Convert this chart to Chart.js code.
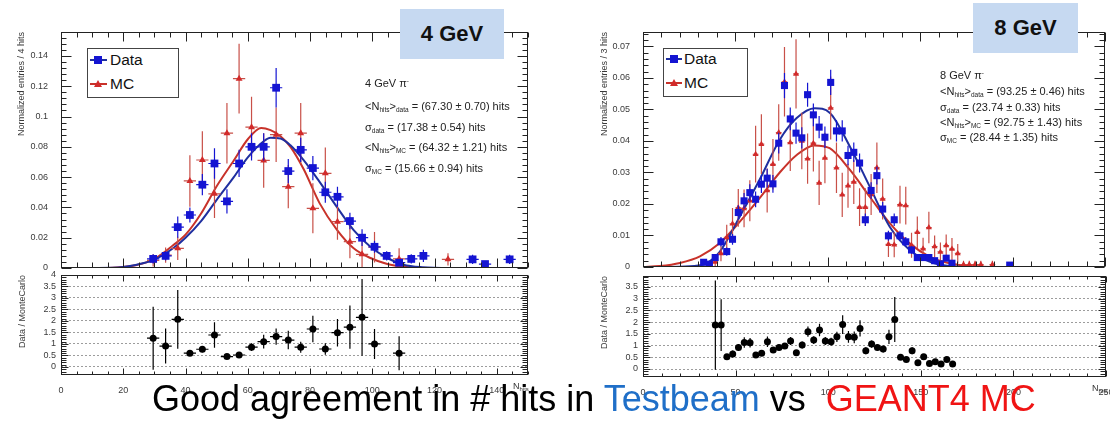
<!DOCTYPE html>
<html>
<head>
<meta charset="utf-8">
<script src="https://cdn.jsdelivr.net/npm/chart.js@4.4.1/dist/chart.umd.min.js"></script>
<style>
  html, body { margin: 0; padding: 0; background: #fff; }
  body { width: 1110px; height: 422px; position: relative; overflow: hidden;
         font-family: "Liberation Sans", Arial, Helvetica, sans-serif; }
  canvas { position: absolute; }
  .tag { position: absolute; background: #c6d9f1; color: #111; font-weight: bold;
         font-size: 22px; text-align: center; }
  .stat { position: absolute; font-size: 11px; line-height: 12px; color: #222; white-space: nowrap; }
  .stat sub { font-size: 6.5px; vertical-align: -2px; }
  .stat sup { font-size: 6.5px; vertical-align: 4px; }
  .leg { position: absolute; border: 1px solid #444; background: #fff; }
  .legtxt { position: absolute; font-size: 15.5px; line-height: 16px; color: #111; }
  .lline { position: absolute; height: 2px; }
  .sq { position: absolute; width: 8px; height: 8px; background: #1414d2; }
  .tri { position: absolute; width: 0; height: 0; border-left: 4px solid transparent;
         border-right: 4px solid transparent; border-bottom: 7px solid #d22a2a; }
  .xt { position: absolute; font-size: 9px; color: #333; white-space: nowrap; }
  .xt sub { font-size: 6px; vertical-align: -2px; }
  .caption { position: absolute; left: 152px; top: 381px; font-size: 36px; line-height: 36px;
             color: #000; white-space: pre; }
</style>
</head>
<body>
<canvas id="main4" width="540" height="280" style="left:0;top:0"></canvas>
<canvas id="ratio4" width="540" height="140" style="left:0;top:262px"></canvas>
<canvas id="main8" width="530" height="280" style="left:580px;top:0"></canvas>
<canvas id="ratio8" width="530" height="140" style="left:580px;top:262px"></canvas>

<!-- 4 GeV panel annotations -->
<div class="tag" style="left:400px;top:9px;width:104px;height:50px;line-height:50px">4 GeV</div>
<div class="stat" style="left:365px;top:75px">4 GeV π<sup>-</sup></div>
<div class="stat" style="left:365px;top:100px">&lt;N<sub>hits</sub>&gt;<sub>data</sub> = (67.30 ± 0.70) hits</div>
<div class="stat" style="left:365px;top:121px">σ<sub>data</sub> = (17.38 ± 0.54) hits</div>
<div class="stat" style="left:365px;top:141px">&lt;N<sub>hits</sub>&gt;<sub>MC</sub> = (64.32 ± 1.21) hits</div>
<div class="stat" style="left:365px;top:162px">σ<sub>MC</sub> = (15.66 ± 0.94) hits</div>
<div class="leg" style="left:87px;top:48px;width:90px;height:48px"></div>
<div class="lline" style="left:90px;top:59px;width:17px;background:#1f2f9f"></div>
<div class="sq" style="left:94px;top:56px"></div>
<div class="legtxt" style="left:110px;top:52px">Data</div>
<div class="lline" style="left:90px;top:83px;width:17px;background:#c8322a"></div>
<div class="tri" style="left:94px;top:80px"></div>
<div class="legtxt" style="left:110px;top:76px">MC</div>
<div class="xt" style="left:513px;top:381px">N<sub>hits</sub></div>

<!-- 8 GeV panel annotations -->
<div class="tag" style="left:973px;top:3px;width:105px;height:50px;line-height:50px">8 GeV</div>
<div class="stat" style="left:940px;top:67px">8 GeV π<sup>-</sup></div>
<div class="stat" style="left:940px;top:85px">&lt;N<sub>hits</sub>&gt;<sub>data</sub> = (93.25 ± 0.46) hits</div>
<div class="stat" style="left:940px;top:101px">σ<sub>data</sub> = (23.74 ± 0.33) hits</div>
<div class="stat" style="left:940px;top:116px">&lt;N<sub>hits</sub>&gt;<sub>MC</sub> = (92.75 ± 1.43) hits</div>
<div class="stat" style="left:940px;top:131px">σ<sub>MC</sub> = (28.44 ± 1.35) hits</div>
<div class="leg" style="left:663px;top:48px;width:83px;height:47px"></div>
<div class="lline" style="left:666px;top:58px;width:16px;background:#1f2f9f"></div>
<div class="sq" style="left:670px;top:55px"></div>
<div class="legtxt" style="left:684px;top:51px">Data</div>
<div class="lline" style="left:666px;top:82px;width:16px;background:#c8322a"></div>
<div class="tri" style="left:670px;top:79px"></div>
<div class="legtxt" style="left:684px;top:75px">MC</div>
<div class="xt" style="left:1092px;top:383px">N<sub>hits</sub></div>

<div class="caption">Good agreement in # hits in <span style="color:#1f6fc8">Testbeam</span> vs  <span style="color:#f01414">GEANT4 MC</span></div>

<script>
// ---------------- 4 GeV pi- ----------------
// bin centres (hits) and normalized entries per bin
const x4Data = [29.6, 33.6, 37.5, 41.4, 45.4, 49.3, 53.3, 57.2, 61.2, 65.1, 69.1, 73.0, 77.0, 80.9, 84.9, 88.8, 92.8, 96.7, 100.7, 104.6, 108.6, 112.5, 116.4, 132.2, 136.2, 144.1];
const y4Data = [0.006, 0.008, 0.027, 0.035, 0.055, 0.069, 0.044, 0.069, 0.080, 0.080, 0.119, 0.064, 0.078, 0.066, 0.050, 0.047, 0.031, 0.020, 0.014, 0.008, 0.0035, 0.006, 0.008, 0.0057, 0.0026, 0.0057];
const e4Data = [0.003, 0.003, 0.007, 0.005, 0.007, 0.010, 0.008, 0.009, 0.009, 0.009, 0.013, 0.008, 0.008, 0.008, 0.007, 0.0066, 0.0055, 0.0055, 0.004, 0.003, 0.002, 0.003, 0.004, 0.003, 0.002, 0.003];

const x4Mc = [29.6, 33.6, 37.5, 41.4, 45.4, 49.3, 53.3, 57.2, 61.2, 65.1, 69.1, 73.0, 77.0, 80.9, 84.9, 88.8, 92.8, 96.7, 100.7, 108.6, 124.3];
const y4Mc = [0.005, 0.0085, 0.013, 0.0575, 0.0713, 0.049, 0.089, 0.125, 0.093, 0.071, 0.088, 0.0537, 0.089, 0.0394, 0.0625, 0.0306, 0.0174, 0.009, 0.0137, 0.006, 0.0057];
const e4Mc = [0.004, 0.005, 0.0077, 0.017, 0.019, 0.016, 0.020, 0.023, 0.020, 0.018, 0.018, 0.0143, 0.020, 0.0165, 0.017, 0.012, 0.011, 0.009, 0.010, 0.007, 0.004];

// Gaussian fit curves
const fit4DataX = [0, 12, 20, 23.5, 30, 36, 40, 45, 50, 55.5, 60, 65, 67.3, 70.5, 73.7, 78, 83, 88.7, 94, 99.4, 104.8, 110, 116, 125, 150];
const fit4DataY = [0, 0, 0.0006, 0.0018, 0.0055, 0.013, 0.020, 0.031, 0.045, 0.060, 0.073, 0.0835, 0.086, 0.0855, 0.081, 0.071, 0.057, 0.040, 0.025, 0.014, 0.0066, 0.0022, 0.0005, 0, 0];
const fit4McX = [0, 12, 18, 24, 30, 36, 40, 45, 50, 55.5, 60, 64.3, 67.3, 70.5, 73.7, 78, 83, 88.7, 94, 99.4, 104.8, 110, 118, 150];
const fit4McY = [0, 0, 0.0004, 0.0018, 0.006, 0.015, 0.022, 0.036, 0.054, 0.071, 0.085, 0.0925, 0.091, 0.087, 0.080, 0.065, 0.043, 0.025, 0.013, 0.0066, 0.0026, 0.0008, 0, 0];

// Data / MonteCarlo
const r4X = [29.6, 33.6, 37.5, 41.4, 45.4, 49.3, 53.3, 57.2, 61.2, 65.1, 69.1, 73.0, 77.0, 80.9, 84.9, 88.8, 92.8, 96.7, 100.7, 108.6];
const r4Y = [1.25, 0.91, 2.07, 0.60, 0.77, 1.39, 0.45, 0.52, 0.86, 1.10, 1.32, 1.17, 0.86, 1.65, 0.78, 1.49, 1.73, 2.16, 1.00, 0.60];
const r4E = [1.37, 0.76, 1.28, 0.08, 0.13, 0.56, 0.08, 0.08, 0.17, 0.30, 0.35, 0.40, 0.24, 0.58, 0.25, 0.60, 0.94, 1.67, 0.65, 0.74];

const ticks4X = [0, 20, 40, 60, 80, 100, 120, 140];
const ticks4Y = [0, 0.02, 0.04, 0.06, 0.08, 0.1, 0.12, 0.14];
const ticksR4Y = [0, 0.5, 1, 1.5, 2, 2.5, 3, 3.5, 4];

// ---------------- 8 GeV pi- ----------------
const x8Data = [32.81, 35.94, 39.06, 42.19, 45.31, 48.44, 51.56, 54.69, 57.81, 60.94, 64.06, 67.19, 70.31, 73.44, 76.56, 79.69, 82.81, 85.94, 89.06, 92.19, 95.31, 98.44, 101.56, 104.69, 107.81, 110.94, 114.06, 117.19, 120.31, 123.44, 126.56, 129.69, 132.81, 135.94, 139.06, 142.19, 145.31, 148.44, 151.56, 154.69, 157.81, 160.94, 164.06, 167.19, 198.44];
const y8Data = [0.0015, 0.0009, 0.003, 0.008, 0.0049, 0.0088, 0.0173, 0.021, 0.0236, 0.0215, 0.0263, 0.0282, 0.0264, 0.0393, 0.0576, 0.047, 0.0425, 0.041, 0.0547, 0.0483, 0.0444, 0.0412, 0.0586, 0.0432, 0.0432, 0.0354, 0.0364, 0.033, 0.015, 0.0243, 0.029, 0.0184, 0.0099, 0.015, 0.0099, 0.008, 0.0054, 0.003, 0.003, 0.003, 0.002, 0.001, 0.0028, 0.0012, 0.0006];
const e8Data = [0.0008, 0.0006, 0.001, 0.0015, 0.0013, 0.0017, 0.0023, 0.0025, 0.0027, 0.0025, 0.0028, 0.003, 0.0028, 0.0033, 0.004, 0.0036, 0.0034, 0.0034, 0.0038, 0.0036, 0.0035, 0.0034, 0.004, 0.0034, 0.0034, 0.0031, 0.0031, 0.003, 0.002, 0.0026, 0.0028, 0.0022, 0.0016, 0.002, 0.0016, 0.0015, 0.0012, 0.0009, 0.0009, 0.0009, 0.0008, 0.0006, 0.0009, 0.0006, 0.0004];

const x8Mc = [39.06, 42.19, 45.31, 48.44, 51.56, 54.69, 57.81, 60.94, 64.06, 67.19, 70.31, 73.44, 76.56, 79.69, 82.81, 85.94, 89.06, 92.19, 95.31, 98.44, 101.56, 104.69, 107.81, 110.94, 114.06, 117.19, 120.31, 123.44, 126.56, 129.69, 132.81, 135.94, 139.06, 142.19, 145.31, 148.44, 151.56, 154.69, 157.81, 160.94, 164.06, 167.19, 170.31, 173.44, 176.56, 179.69, 182.81, 189.06];
const y8Mc = [0.0016, 0.0043, 0.0094, 0.0137, 0.0188, 0.0186, 0.021, 0.0358, 0.039, 0.0243, 0.0326, 0.0427, 0.0588, 0.0395, 0.0613, 0.040, 0.0344, 0.0393, 0.0267, 0.0346, 0.0505, 0.0315, 0.0229, 0.0258, 0.027, 0.019, 0.019, 0.023, 0.0315, 0.0216, 0.0072, 0.0071, 0.0198, 0.0195, 0.0069, 0.011, 0.0058, 0.0125, 0.0065, 0.0048, 0.0068, 0.0057, 0.0043, 0.0008, 0.0008, 0.0008, 0.0008, 0.0008];
const e8Mc = [0.0015, 0.0025, 0.004, 0.005, 0.006, 0.006, 0.0065, 0.009, 0.0095, 0.007, 0.008, 0.009, 0.011, 0.009, 0.011, 0.009, 0.008, 0.009, 0.007, 0.008, 0.010, 0.008, 0.007, 0.007, 0.007, 0.006, 0.006, 0.0065, 0.008, 0.0065, 0.004, 0.004, 0.006, 0.006, 0.004, 0.005, 0.0035, 0.005, 0.0035, 0.003, 0.0035, 0.0035, 0.003, 0.0012, 0.0012, 0.0012, 0.0012, 0.0012];

const fit8DataX = [0, 20, 30, 33.5, 41.6, 52.4, 63, 74, 83, 93, 101, 112, 122.7, 133.5, 144.3, 155, 165.8, 180, 250];
const fit8DataY = [0, 0.0001, 0.0005, 0.0009, 0.0049, 0.016, 0.0276, 0.0404, 0.0472, 0.0504, 0.049, 0.0382, 0.0255, 0.0128, 0.0054, 0.0017, 0.0003, 0, 0];
const fit8McX = [0, 9, 20, 30.8, 41.6, 52.4, 63, 74, 83, 92.75, 101, 112, 122.7, 133.5, 144.3, 155, 165.8, 176.6, 192, 250];
const fit8McY = [0, 0.0003, 0.0013, 0.0034, 0.0076, 0.0144, 0.0218, 0.030, 0.0355, 0.0386, 0.0377, 0.0308, 0.0223, 0.0139, 0.0075, 0.0033, 0.0012, 0.0003, 0, 0];

const r8X = [39.06, 42.19, 45.31, 48.44, 51.56, 54.69, 57.81, 60.94, 64.06, 67.19, 70.31, 73.44, 76.56, 79.69, 82.81, 85.94, 89.06, 92.19, 95.31, 98.44, 101.56, 104.69, 107.81, 110.94, 114.06, 117.19, 120.31, 123.44, 126.56, 129.69, 132.81, 135.94, 139.06, 142.19, 145.31, 148.44, 151.56, 154.69, 157.81, 160.94, 164.06, 167.19];
const r8Y = [1.87, 1.87, 0.52, 0.64, 0.92, 1.13, 1.12, 0.60, 0.67, 1.16, 0.81, 0.92, 0.98, 1.19, 0.69, 1.02, 1.59, 1.23, 1.66, 1.19, 1.16, 1.37, 1.89, 1.37, 1.35, 1.73, 0.78, 1.06, 0.92, 0.85, 1.37, 2.11, 0.50, 0.41, 0.78, 0.27, 0.52, 0.24, 0.31, 0.21, 0.41, 0.21];
const r8E = [1.9, 1.1, 0.12, 0.15, 0.15, 0.22, 0.2, 0.1, 0.1, 0.22, 0.12, 0.12, 0.12, 0.17, 0.12, 0.15, 0.22, 0.17, 0.27, 0.17, 0.17, 0.22, 0.4, 0.25, 0.25, 0.35, 0.15, 0.15, 0.12, 0.15, 0.3, 0.96, 0.1, 0.1, 0.15, 0.08, 0.1, 0.06, 0.08, 0.06, 0.1, 0.06];

const ticks8X = [0, 50, 100, 150, 200, 250];
const ticks8Y = [0, 0.01, 0.02, 0.03, 0.04, 0.05, 0.06, 0.07];
const ticksR8Y = [0, 0.5, 1, 1.5, 2, 2.5, 3, 3.5];

// ---------------- drawing helpers ----------------
const BLUE = '#1414d2', BLUE_FIT = '#1f2f9f', RED = '#d22a2a', RED_FIT = '#c8322a', RED_ERR = '#c85048';
const xy = (xs, ys) => xs.map((v, i) => ({x: v, y: ys[i]}));
const fmt = v => String(+(+v).toFixed(4));

// force the thickness of an axis box and drop the automatic label padding
const fixBox = size => s => {
  if (s.isHorizontal()) s.height = size; else s.width = size;
  s.paddingTop = s.paddingBottom = s.paddingLeft = s.paddingRight = 0;
};
const fixedTicks = values => s => { s.ticks = values.map(v => ({value: v})); };

// vertical and horizontal error bars, drawn just under each dataset's markers
const errorBars = {
  id: 'errorBars',
  beforeDatasetDraw(chart, args) {
    const ds = chart.data.datasets[args.index];
    if (!ds.errY) return;
    const {ctx, chartArea: a, scales: {x, y}} = chart;
    ctx.save();
    ctx.beginPath();
    ctx.rect(a.left, a.top, a.right - a.left, a.bottom - a.top);
    ctx.clip();
    ctx.strokeStyle = ds.errColor;
    ctx.lineWidth = ds.errWidth;
    ctx.beginPath();
    ds.data.forEach((p, i) => {
      const px = x.getPixelForValue(p.x), py = y.getPixelForValue(p.y);
      ctx.moveTo(px, y.getPixelForValue(p.y - ds.errY[i]));
      ctx.lineTo(px, y.getPixelForValue(p.y + ds.errY[i]));
      ctx.moveTo(x.getPixelForValue(p.x - ds.errX), py);
      ctx.lineTo(x.getPixelForValue(p.x + ds.errX), py);
    });
    ctx.stroke();
    ctx.restore();
  }
};

// closed frame with inward major/minor ticks on all four sides
const rootFrame = {
  id: 'rootFrame',
  afterDatasetsDraw(chart, args, o) {
    const {ctx, chartArea: a, scales: {x, y}} = chart;
    const L = Math.round(a.left) + 0.5, R = Math.round(a.right) - 0.5;
    const T = Math.round(a.top) + 0.5, B = Math.round(a.bottom) - 0.5;
    ctx.save();
    ctx.strokeStyle = '#222';
    ctx.lineWidth = 1;
    ctx.strokeRect(L, T, R - L, B - T);
    ctx.beginPath();
    const walk = (scale, minor, major, fn) => {
      const k0 = Math.ceil(scale.min / minor - 1e-6), k1 = Math.floor(scale.max / minor + 1e-6);
      for (let k = k0; k <= k1; k++) {
        const v = k * minor;
        const isMajor = Math.abs(v / major - Math.round(v / major)) < 1e-6;
        fn(Math.round(scale.getPixelForValue(v)) + 0.5, isMajor);
      }
    };
    walk(x, o.xMinor, o.xMajor, (px, M) => {
      const lb = M ? o.xLenB[0] : o.xLenB[1], lt = M ? o.xLenT[0] : o.xLenT[1];
      ctx.moveTo(px, B); ctx.lineTo(px, B - lb);
      ctx.moveTo(px, T); ctx.lineTo(px, T + lt);
    });
    walk(y, o.yMinor, o.yMajor, (py, M) => {
      const l = M ? o.yLen[0] : o.yLen[1];
      ctx.moveTo(L, py); ctx.lineTo(L + l, py);
      ctx.moveTo(R, py); ctx.lineTo(R - l, py);
    });
    ctx.stroke();
    ctx.restore();
  }
};

const tickFont = {family: '"Liberation Sans", Arial, sans-serif', size: 9};
const titleFont = {family: '"Liberation Sans", Arial, sans-serif', size: 9};

function plot(id, o) {
  return new Chart(document.getElementById(id), {
    type: 'scatter',
    data: {datasets: o.datasets},
    options: {
      responsive: false,
      animation: false,
      events: [],
      layout: {padding: o.pad},
      plugins: {legend: {display: false}, tooltip: {enabled: false}, rootFrame: o.frame},
      scales: {
        x: {
          type: 'linear', min: o.xMin, max: o.xMax,
          afterBuildTicks: fixedTicks(o.xTicks), afterFit: fixBox(o.xH),
          grid: {display: false}, border: {display: false},
          ticks: {display: o.xLabels, font: tickFont, color: '#3a3a3a', padding: 2,
                  maxRotation: 0, autoSkip: false, callback: fmt}
        },
        y: {
          type: 'linear', min: o.yMin, max: o.yMax,
          afterBuildTicks: fixedTicks(o.yTicks), afterFit: fixBox(o.yW),
          grid: o.grid ? {display: true, color: '#9c9c9c', lineWidth: 1, drawTicks: false}
                       : {display: false},
          border: {display: false, dash: [2, 2]},
          ticks: {font: tickFont, color: '#3a3a3a', padding: 5, autoSkip: false, callback: fmt},
          title: {display: true, text: o.yTitle, align: 'end', font: titleFont,
                  color: '#3a3a3a', padding: {top: o.titlePad, bottom: 0}}
        }
      }
    },
    plugins: [errorBars, rootFrame]
  });
}

function curve(xs, ys, color) {
  return {data: xy(xs, ys), showLine: true, pointRadius: 0, borderColor: color, borderWidth: 2,
          cubicInterpolationMode: 'monotone', fill: false, order: 3};
}
function points(xs, ys, es, halfBin, style, color, errColor, r) {
  return {data: xy(xs, ys), errY: es, errX: halfBin, errColor: errColor, errWidth: 1.2,
          showLine: false, pointStyle: style, pointRadius: r, backgroundColor: color,
          borderColor: color, borderWidth: 0, order: style === 'rect' ? 1 : 2};
}

const frameMain4 = {xMinor: 5, xMajor: 20, yMinor: 0.004, yMajor: 0.02, xLenB: [9, 5], xLenT: [9, 5], yLen: [10, 5]};
const frameRatio4 = {xMinor: 5, xMajor: 20, yMinor: 0.1, yMajor: 0.5, xLenB: [6, 3], xLenT: [6, 3], yLen: [7, 5]};
const frameMain8 = {xMinor: 10, xMajor: 50, yMinor: 0.002, yMajor: 0.01, xLenB: [9, 5], xLenT: [9, 5], yLen: [10, 5]};
const frameRatio8 = {xMinor: 10, xMajor: 50, yMinor: 0.1, yMajor: 0.5, xLenB: [6, 3], xLenT: [6, 3], yLen: [7, 5]};

plot('main4', {
  pad: {top: 32, right: 12, bottom: 0, left: 0},
  xMin: 0, xMax: 150, xTicks: ticks4X, xH: 12, xLabels: false,
  yMin: 0, yMax: 0.1558, yTicks: ticks4Y, yW: 61, grid: false,
  yTitle: 'Normalized entries / 4 hits', titlePad: 16, frame: frameMain4,
  datasets: [
    points(x4Data, y4Data, e4Data, 1.97, 'rect', BLUE, BLUE, 5.5),
    points(x4Mc, y4Mc, e4Mc, 1.97, 'triangle', RED, RED_ERR, 4),
    curve(fit4DataX, fit4DataY, BLUE_FIT),
    curve(fit4McX, fit4McY, RED_FIT)
  ]
});

plot('ratio4', {
  pad: {top: 13, right: 12, bottom: 0, left: 0},
  xMin: 0, xMax: 150, xTicks: ticks4X, xH: 27, xLabels: true,
  yMin: -0.35, yMax: 4.0, yTicks: ticksR4Y, yW: 61, grid: true,
  yTitle: 'Data / MonteCarlo', titlePad: 17, frame: frameRatio4,
  datasets: [points(r4X, r4Y, r4E, 1.97, 'circle', '#000', '#000', 3.5)]
});

plot('main8', {
  pad: {top: 32, right: 4, bottom: 0, left: 0},
  xMin: 0, xMax: 250, xTicks: ticks8X, xH: 13, xLabels: false,
  yMin: 0, yMax: 0.0746, yTicks: ticks8Y, yW: 63, grid: false,
  yTitle: 'Normalized entries / 3 hits', titlePad: 19, frame: frameMain8,
  datasets: [
    points(x8Data, y8Data, e8Data, 1.5625, 'rect', BLUE, BLUE, 5),
    points(x8Mc, y8Mc, e8Mc, 1.5625, 'triangle', RED, RED_ERR, 3.5),
    curve(fit8DataX, fit8DataY, BLUE_FIT),
    curve(fit8McX, fit8McY, RED_FIT)
  ]
});

plot('ratio8', {
  pad: {top: 14, right: 4, bottom: 0, left: 0},
  xMin: 0, xMax: 250, xTicks: ticks8X, xH: 25, xLabels: true,
  yMin: -0.34, yMax: 3.96, yTicks: ticksR8Y, yW: 63, grid: true,
  yTitle: 'Data / MonteCarlo', titlePad: 19, frame: frameRatio8,
  datasets: [points(r8X, r8Y, r8E, 1.5625, 'circle', '#000', '#000', 3.5)]
});
</script>
</body>
</html>
